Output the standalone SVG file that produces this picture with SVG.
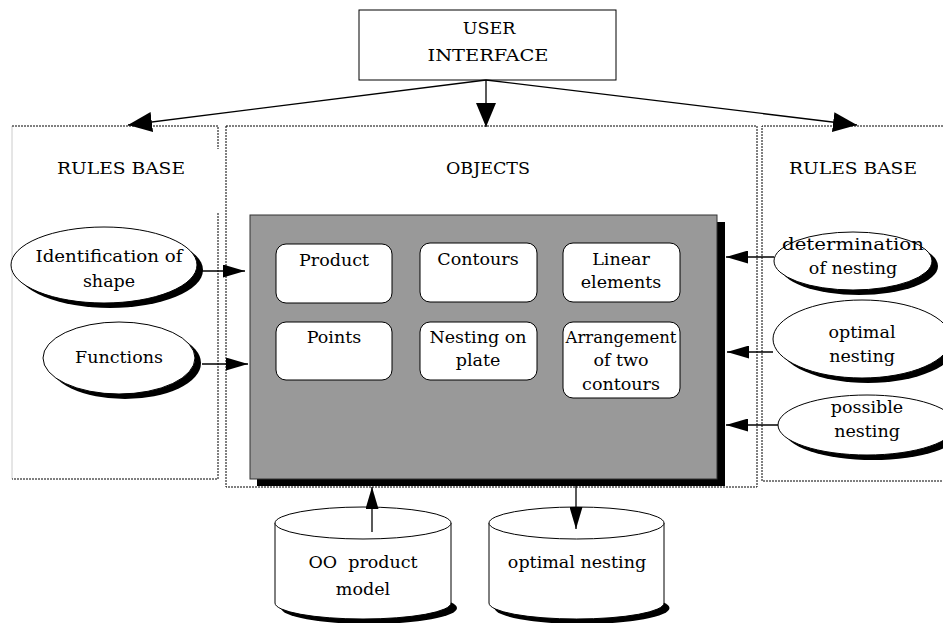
<svg xmlns="http://www.w3.org/2000/svg" width="943" height="623" viewBox="0 0 943 623">
<defs>
<style>
text{font-family:"DejaVu Serif","Liberation Serif",serif;font-size:17.5px;fill:#000;text-anchor:middle}
.dot{fill:none;stroke:#000;stroke-width:1;stroke-dasharray:2 1}
.obj{fill:#fff;stroke:#000;stroke-width:1}
.ell{fill:#fff;stroke:#000;stroke-width:1}
.sh{fill:#000}
.con{fill:none;stroke:#000;stroke-width:1.3}
.big{marker-end:url(#ah-big)}
.sm{marker-end:url(#ah-sm)}
</style>
<marker id="ah-big" markerUnits="userSpaceOnUse" markerWidth="24" markerHeight="20" refX="24" refY="10" orient="auto" viewBox="0 0 24 20"><path d="M0,0 L24,10 L0,20 z" fill="#000"/></marker>
<marker id="ah-sm" markerUnits="userSpaceOnUse" markerWidth="22" markerHeight="13" refX="22" refY="6.5" orient="auto" viewBox="0 0 22 13"><path d="M0,0 L22,6.5 L0,13 z" fill="#000"/></marker>
</defs>
<rect width="943" height="623" fill="#fff"/>

<g id="panel-left">
<line x1="12" y1="126" x2="12" y2="479" stroke="#ccc" stroke-width="1"/>
<path class="dot" d="M12,126 H218 V149 M218,213 V479 H12"/>
<text x="121" y="174" textLength="128" lengthAdjust="spacingAndGlyphs">RULES BASE</text>
</g>
<g id="panel-objects">
<rect class="dot" x="226" y="126" width="531" height="361"/>
<text x="488" y="174">OBJECTS</text>
</g>
<g id="panel-right">
<path class="dot" d="M943,126 H762 V481 H943"/>
<text x="853" y="174" textLength="128" lengthAdjust="spacingAndGlyphs">RULES BASE</text>
</g>

<g id="user-interface">
<rect x="359" y="10" width="257" height="70" fill="#fff" stroke="#000" stroke-width="1"/>
<text x="489" y="34">USER</text>
<text x="488" y="61" textLength="121" lengthAdjust="spacingAndGlyphs">INTERFACE</text>
</g>

<g id="objects-container">
<rect class="sh" x="257" y="222" width="468" height="264"/>
<rect x="250" y="215" width="467" height="264" fill="#999" stroke="#333" stroke-width="1"/>
</g>
<g id="product"><rect class="obj" x="276" y="244" width="116" height="59" rx="10"/><text x="334" y="266">Product</text></g>
<g id="contours"><rect class="obj" x="420" y="243" width="117" height="59" rx="10"/><text x="478" y="265">Contours</text></g>
<g id="linear-elements"><rect class="obj" x="563" y="243" width="117" height="59" rx="10"/><text x="621" y="265">Linear</text><text x="621" y="288">elements</text></g>
<g id="points"><rect class="obj" x="276" y="322" width="116" height="58" rx="10"/><text x="334" y="343">Points</text></g>
<g id="nesting-on-plate"><rect class="obj" x="420" y="322" width="117" height="58" rx="10"/><text x="478" y="343">Nesting on</text><text x="478" y="366">plate</text></g>
<g id="arrangement"><rect class="obj" x="563" y="322" width="117" height="76" rx="10"/><text x="621" y="343" textLength="111" lengthAdjust="spacingAndGlyphs">Arrangement</text><text x="621" y="366">of two</text><text x="621" y="390">contours</text></g>

<g id="identification-of-shape">
<ellipse class="sh" cx="110" cy="270" rx="93" ry="38"/>
<ellipse class="ell" cx="104" cy="265" rx="93" ry="38"/>
<text x="109" y="262" textLength="147" lengthAdjust="spacingAndGlyphs">Identification of</text><text x="109" y="287">shape</text>
</g>
<g id="functions">
<ellipse class="sh" cx="125" cy="363" rx="76" ry="36"/>
<ellipse class="ell" cx="119" cy="358" rx="76" ry="36"/>
<text x="119" y="363">Functions</text>
</g>
<g id="determination-of-nesting">
<ellipse class="sh" cx="859" cy="266" rx="79" ry="29"/>
<ellipse class="ell" cx="853" cy="261" rx="79" ry="29"/>
<text x="853" y="250" textLength="142" lengthAdjust="spacingAndGlyphs">determination</text><text x="853" y="274">of nesting</text>
</g>
<g id="optimal-nesting-rule">
<ellipse class="sh" cx="868" cy="344" rx="89" ry="39"/>
<ellipse class="ell" cx="862" cy="339" rx="89" ry="39"/>
<text x="862" y="338">optimal</text><text x="862" y="362">nesting</text>
</g>
<g id="possible-nesting">
<ellipse class="sh" cx="873" cy="430" rx="89" ry="30"/>
<ellipse class="ell" cx="867" cy="425" rx="89" ry="30"/>
<text x="867" y="413">possible</text><text x="867" y="437">nesting</text>
</g>

<g id="oo-product-model">
<ellipse class="sh" cx="369" cy="608" rx="88" ry="16"/>
<path d="M275,523 V603 A88,16 0 0 0 451,603 V523" fill="#fff" stroke="#000" stroke-width="1"/>
<ellipse cx="363" cy="523" rx="88" ry="16" fill="#fff" stroke="#000" stroke-width="1"/>
<text x="363" y="568" xml:space="preserve">OO  product</text><text x="363" y="595">model</text>
</g>
<g id="optimal-nesting-db">
<ellipse class="sh" cx="582" cy="608" rx="87.5" ry="16"/>
<path d="M489,523 V603 A87.5,16 0 0 0 664,603 V523" fill="#fff" stroke="#000" stroke-width="1"/>
<ellipse cx="576.5" cy="523" rx="87.5" ry="16" fill="#fff" stroke="#000" stroke-width="1"/>
<text x="577" y="568">optimal nesting</text>
</g>

<g id="connectors">
<line class="con big" x1="486" y1="80" x2="128" y2="125"/>
<line class="con big" x1="486" y1="80" x2="486" y2="127"/>
<line class="con big" x1="486" y1="80" x2="857" y2="125"/>
<line class="con sm" x1="200" y1="271" x2="245" y2="271"/>
<line class="con sm" x1="202" y1="364" x2="248" y2="364"/>
<line class="con sm" x1="774" y1="257" x2="726" y2="257"/>
<line class="con sm" x1="773" y1="352" x2="727" y2="352"/>
<line class="con sm" x1="778" y1="425" x2="726" y2="425"/>
<line class="con sm" x1="372" y1="532" x2="372" y2="487"/>
<line class="con sm" x1="576" y1="486" x2="576" y2="529"/>
</g>
</svg>
